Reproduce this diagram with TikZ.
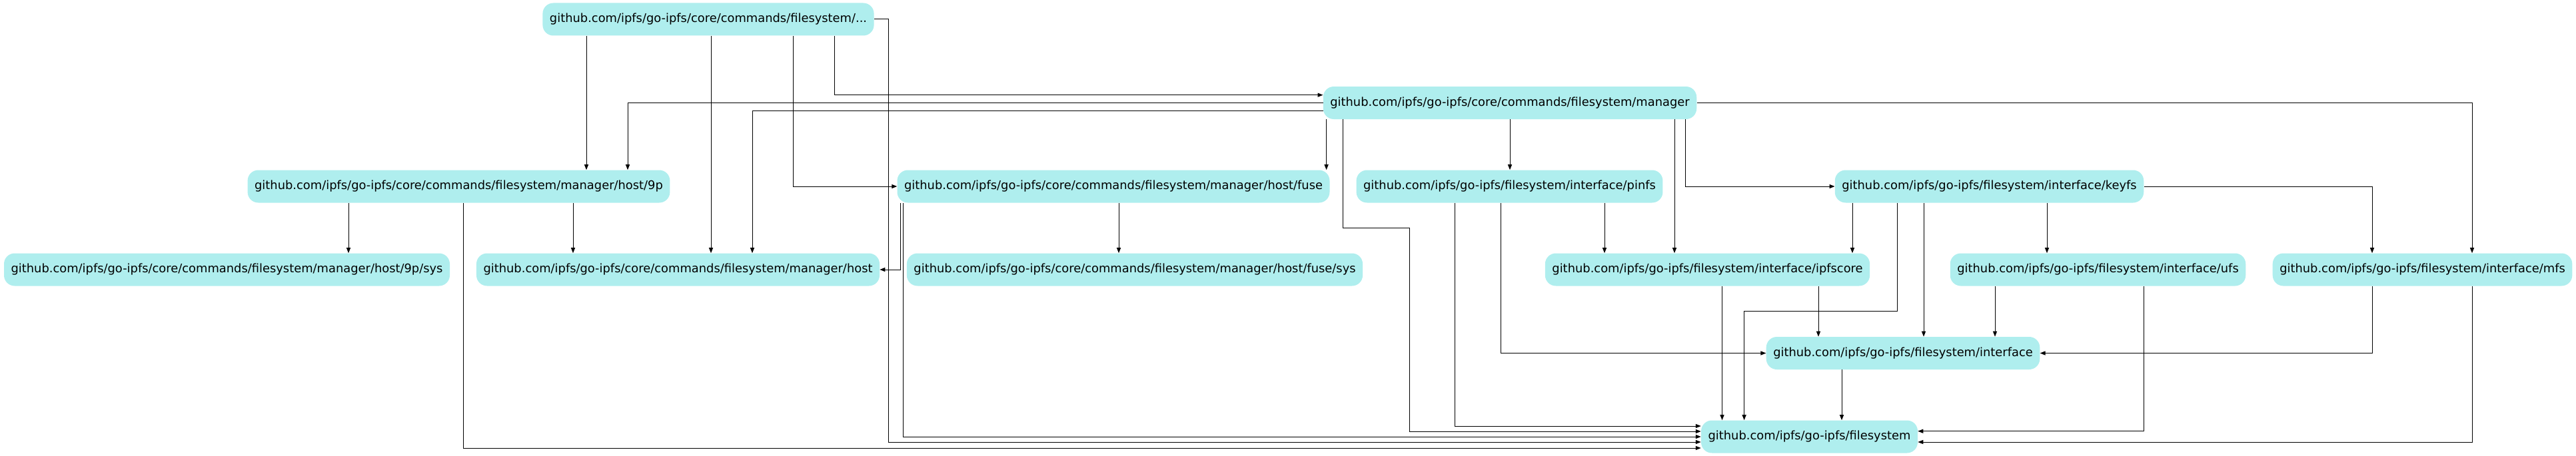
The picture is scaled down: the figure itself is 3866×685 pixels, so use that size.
\documentclass[tikz,border=0pt]{standalone}
\usepackage{fontspec}
\setmainfont{DejaVu Sans}
\usetikzlibrary{arrows.meta}
\definecolor{pkgfill}{HTML}{AFEEEE}

\begin{document}
\begin{tikzpicture}[x=0.75pt,y=-0.75pt,
    pkg/.style={rectangle,rounded corners=12pt,fill=pkgfill,minimum height=36.75pt,
        inner xsep=7.9pt,inner ysep=0pt,font=\fontsize{13.4}{16}\selectfont},
    dep/.style={-{Triangle[length=6pt,width=4.5pt]},line width=0.75pt}]
    \useasboundingbox (0,0) rectangle (3866,685);
    % packages
    \node[pkg] (cmdfs) at (1063,29) {github.com/ipfs/go-ipfs/core/commands/filesystem/...};
    \node[pkg] (manager) at (2266,154.5) {github.com/ipfs/go-ipfs/core/commands/filesystem/manager};
    \node[pkg] (host9p) at (688.5,280) {github.com/ipfs/go-ipfs/core/commands/filesystem/manager/host/9p};
    \node[pkg] (hostfuse) at (1671,280) {github.com/ipfs/go-ipfs/core/commands/filesystem/manager/host/fuse};
    \node[pkg] (pinfs) at (2265.5,280) {github.com/ipfs/go-ipfs/filesystem/interface/pinfs};
    \node[pkg] (keyfs) at (2985.5,280) {github.com/ipfs/go-ipfs/filesystem/interface/keyfs};
    \node[pkg] (sys9p) at (340.5,405) {github.com/ipfs/go-ipfs/core/commands/filesystem/manager/host/9p/sys};
    \node[pkg] (host) at (1017.5,405) {github.com/ipfs/go-ipfs/core/commands/filesystem/manager/host};
    \node[pkg] (fusesys) at (1703,405) {github.com/ipfs/go-ipfs/core/commands/filesystem/manager/host/fuse/sys};
    \node[pkg] (ipfscore) at (2562.5,405) {github.com/ipfs/go-ipfs/filesystem/interface/ipfscore};
    \node[pkg] (ufs) at (3148.5,405) {github.com/ipfs/go-ipfs/filesystem/interface/ufs};
    \node[pkg] (mfs) at (3635.5,405) {github.com/ipfs/go-ipfs/filesystem/interface/mfs};
    \node[pkg] (iface) at (2856,530.5) {github.com/ipfs/go-ipfs/filesystem/interface};
    \node[pkg] (fs) at (2715.5,656) {github.com/ipfs/go-ipfs/filesystem};
    % imports
    \draw[dep] (cmdfs.south -| 880,0) -- (host9p.north -| 880,0);
    \draw[dep] (cmdfs.south -| 1067,0) -- (host.north -| 1067,0);
    \draw[dep] (cmdfs.south -| 1190,0) |- (hostfuse.west);
    \draw[dep] (cmdfs.south -| 1252,0) |- (manager.west |- 0,142.7);
    \draw[dep] (cmdfs.east) -| (1333,664) -- (fs.west |- 0,664);
    \draw[dep] (manager.west) -| (host9p.north -| 942,0);
    \draw[dep] (manager.west |- 0,166) -| (host.north -| 1129,0);
    \draw[dep] (manager.south -| 1990.6,0) -- (hostfuse.north -| 1990.6,0);
    \draw[dep] (manager.south -| 2015,0) |- (2115,342.7) |- (fs.west |- 0,648);
    \draw[dep] (manager.south) -- (pinfs.north -| manager.south);
    \draw[dep] (manager.south -| 2513,0) -- (ipfscore.north -| 2513,0);
    \draw[dep] (manager.south -| 2529,0) |- (keyfs.west);
    \draw[dep] (manager.east) -| (mfs.north -| 3710,0);
    \draw[dep] (host9p.south -| 523,0) -- (sys9p.north -| 523,0);
    \draw[dep] (host9p.south -| 860,0) -- (host.north -| 860,0);
    \draw[dep] (host9p.south -| 695,0) |- (fs.west |- 0,673);
    \draw[dep] (hostfuse.south -| 1679,0) -- (fusesys.north -| 1679,0);
    \draw[dep] (hostfuse.south -| 1351,0) |- (host.east);
    \draw[dep] (hostfuse.south -| 1355.5,0) |- (fs.west);
    \draw[dep] (pinfs.south -| 2183,0) |- (fs.west |- 0,640);
    \draw[dep] (pinfs.south -| 2252,0) |- (iface.west);
    \draw[dep] (pinfs.south -| 2408,0) -- (ipfscore.north -| 2408,0);
    \draw[dep] (keyfs.south -| 2780,0) -- (ipfscore.north -| 2780,0);
    \draw[dep] (keyfs.south -| 2847.5,0) |- (2617.6,467.7) -- (fs.north -| 2617.6,0);
    \draw[dep] (keyfs.south -| 2887,0) -- (iface.north -| 2887,0);
    \draw[dep] (keyfs.south -| 3072,0) -- (ufs.north -| 3072,0);
    \draw[dep] (keyfs.east) -| (mfs.north -| 3560,0);
    \draw[dep] (ipfscore.south -| 2584.5,0) -- (fs.north -| 2584.5,0);
    \draw[dep] (ipfscore.south -| 2729,0) -- (iface.north -| 2729,0);
    \draw[dep] (ufs.south -| 2994,0) -- (iface.north -| 2994,0);
    \draw[dep] (ufs.south -| 3217,0) |- (fs.east |- 0,647.7);
    \draw[dep] (mfs.south -| 3560,0) |- (iface.east);
    \draw[dep] (mfs.south -| 3710,0) |- (fs.east |- 0,664);
    \draw[dep] (iface.south -| 2764,0) -- (fs.north -| 2764,0);
\end{tikzpicture}
\end{document}
